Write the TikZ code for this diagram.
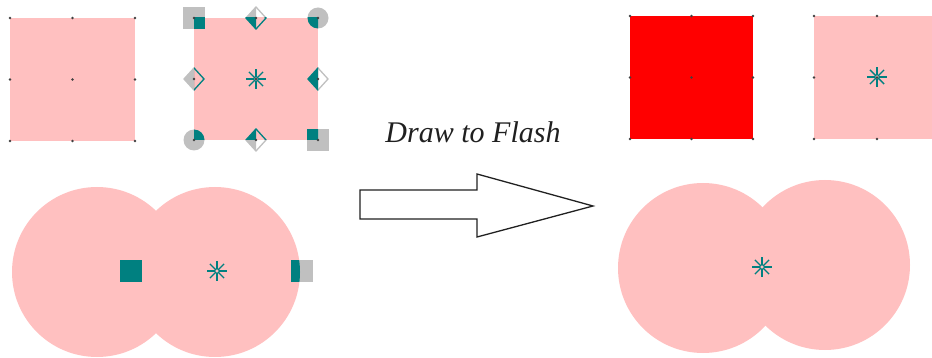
\documentclass[tikz,border=0pt]{standalone}
\usepackage{fontspec}
\setmainfont{Liberation Serif}
\usepackage{tikz}
\usetikzlibrary{shapes.geometric, positioning, calc}

\definecolor{blush}{RGB}{255,192,192}
\definecolor{gripgray}{RGB}{192,192,192}
\definecolor{darkteal}{RGB}{0,128,128}
\definecolor{dotgray}{RGB}{64,64,64}
\definecolor{inkgray}{RGB}{32,32,32}

% small dots on the nine anchors of a box
\newcommand{\pinmarks}[1]{%
  \foreach \a in {north west,north,north east,west,center,east,south west,south,south east}
    \fill[dotgray] (#1.\a) circle (1.4pt);}
% registration mark
\newcommand{\hubmark}[1]{%
  \foreach \ang in {0,45,...,315}
    \draw[darkteal, line width=1.4pt] (#1) -- ++(\ang:10pt);
  \draw[darkteal, line width=1pt, fill=blush] (#1) circle (2.2pt);}

\tikzset{
  pics/grip/.style 2 args={code={
    \draw[#1, line width=1.3pt, fill=#2] (-10pt,0) -- (0,11pt) -- (10pt,0) -- (0,-11pt) -- cycle;
    \fill[#1] (0,11pt) -- (-10pt,0) -- (0,-11pt) -- cycle;}}
}

\begin{document}
\begin{tikzpicture}[
  x=1pt, y=-1pt,
  sheet/.style={rectangle, fill=blush, inner sep=0pt, outer sep=0pt},
  disc/.style={circle, fill=blush, inner sep=0pt, outer sep=0pt, minimum size=170pt},
  sqgrip/.style={rectangle, inner sep=0pt, minimum size=22pt},
  rndgrip/.style={circle, inner sep=0pt, minimum size=21pt},
  caption/.style={font=\itshape\fontsize{30}{33}\selectfont, text=inkgray, inner sep=0pt}
]
  \useasboundingbox (0,0) rectangle (932,358);
  \clip (0,0) rectangle (932,358);

  % top row of boxes
  \node[sheet, minimum width=125pt, minimum height=123pt] (plain) at (72.5,79.5) {};
  \node[sheet, minimum width=124pt, minimum height=122pt] (picked) at (256,79) {};
  \node[sheet, fill=red, minimum width=123pt, minimum height=123pt] (flat) at (691.5,77.5) {};
  \node[sheet, minimum width=126pt, minimum height=123pt] (symbol) at (877,77.5) {};

  % circles
  \node[disc] (lefta) at (97,272) {};
  \node[disc] (leftb) at (215,272) {};
  \node[disc] (righta) at (703,268) {};
  \node[disc] (rightb) at (825,265) {};

  % handles of the selected box
  \foreach \a/\n in {north west/nw, south east/se}
    \node[sqgrip, fill=gripgray] (sq-\n) at (picked.\a) {};
  \foreach \a/\n in {north east/ne, south west/sw}
    \node[rndgrip, fill=gripgray] (rd-\n) at (picked.\a) {};
  \foreach \a in {north, west, east, south}
    \pic at (picked.\a) {grip={gripgray}{white}};
  \begin{scope}
    \clip (picked.north west) rectangle (picked.south east);
    \foreach \a/\n in {north west/nw, south east/se}
      \node[sqgrip, fill=darkteal] (sqin-\n) at (picked.\a) {};
    \foreach \a/\n in {north east/ne, south west/sw}
      \node[rndgrip, fill=darkteal] (rdin-\n) at (picked.\a) {};
    \foreach \a in {north, west, east, south}
      \pic at (picked.\a) {grip={darkteal}{blush}};
  \end{scope}

  % handles of the circle pair
  \node[sqgrip, fill=darkteal] (knob) at (131,271) {};
  \node[sqgrip, fill=gripgray] (edgegrip) at (302,271) {};
  \begin{scope}
    \clip (leftb) circle (85pt);
    \node[sqgrip, fill=darkteal] (edgein) at (302,271) {};
  \end{scope}

  % marks
  \coordinate (pairhub) at (217,271);
  \coordinate (mergedhub) at (762,267);
  \coordinate (symbolhub) at (877,77);
  \hubmark{picked.center}
  \hubmark{symbolhub}
  \hubmark{pairhub}
  \hubmark{mergedhub}

  \pinmarks{plain}
  \pinmarks{picked}
  \pinmarks{flat}
  \pinmarks{symbol}

  % big arrow and its label
  \draw[inkgray, line width=1.3pt, line join=miter]
    (360,190) -- (477,190) -- (477,174) -- (593,206) -- (477,237) -- (477,219) -- (360,219) -- cycle;
  \node[caption, anchor=base] (title) at (473,143) {Draw to Flash};
\end{tikzpicture}
\end{document}
